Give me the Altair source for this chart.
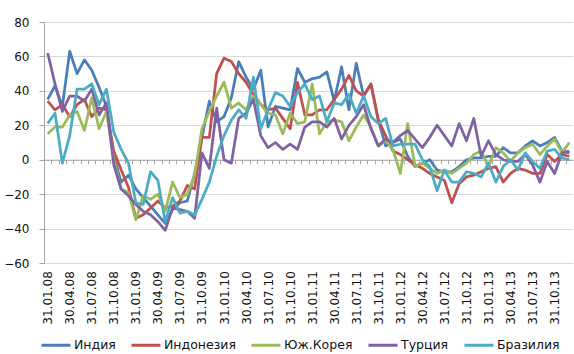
import calendar

import altair as alt
import pandas as pd

# Monthly observations, January 2008 - December 2013 (month-end dates)
month_labels = []
for k in range(72):
    yr, mo = 2008 + k // 12, k % 12 + 1
    last = calendar.monthrange(yr, mo)[1]
    month_labels.append(f"{last:02d}.{mo:02d}.{yr % 100:02d}")

series_names = ["Индия", "Индонезия", "Юж.Корея", "Турция", "Бразилия"]
series_colors = ["#4A7EBB", "#C0504D", "#9BBB59", "#7F62A3", "#4BACC6"]

india = [35, 43, 31, 63, 50, 58, 52, 42, 31, 2,
         -13, -9, -17, -22, -27, -32, -37, -29, -25, -24,
         -8, 13, 34, 22, 25, 36, 57, 48, 41, 52,
         19, 31, 30, 29, 53, 45, 47, 48, 51, 34,
         54, 29, 56, 37, 44, 23, 8, 10, 12, 2,
         -4, -2, 0, -6, -7, -7, -4, 0, 1, 1,
         2, 2, 7, 4, 4, 8, 11, 8, 10, 13,
         5, 4]

indonesia = [34, 29, 32, 25, 32, 35, 25, 30, 29, 5,
             -6, -16, -34, -32, -28, -24, -28, -27, -24, -15,
             -17, 13, 13, 50, 59, 57, 50, 45, 38, 32,
             29, 30, 24, 18, 45, 26, 26, 29, 29, 35,
             41, 49, 40, 37, 44, 23, 14, 5, 3, 0,
             -3, -5, -8, -10, -12, -25, -14, -10, -9, -7,
             -5, -4, -13, -8, -5, -6, -8, -8, 3, -1,
             3, 2]

korea = [15, 19, 19, 26, 28, 17, 36, 18, 28, 0,
         -17, -19, -35, -21, -23, -20, -30, -13, -22, -20,
         -9, 18, 28, 37, 45, 30, 33, 29, 37, 32,
         27, 26, 15, 27, 21, 22, 44, 15, 22, 23,
         22, 11, 19, 26, 19, 8, 11, 6, -8, 21,
         -4, -2, -5, -8, -6, -8, -5, -2, 3, 5,
         -4, 7, 4, -1, 4, 7, 9, 3, 8, 12,
         4, 10]

turkey = [62, 44, 28, 37, 37, 34, 41, 26, 33, -3,
          -17, -21, -26, -30, -32, -36, -41, -28, -29, -30,
          -34, 4, -5, 30, 0, -2, 24, 27, 35, 14,
          7, 10, 6, 9, 6, 19, 22, 22, 19, 24,
          12, 20, 25, 32, 18, 8, 12, 10, 14, 17,
          12, 7, 13, 20, 14, 8, 21, 11, 24, 2,
          11, 3, 0, -1, -1, 3, -3, -13, -1, -8,
          4, 5]

brazil = [21, 27, -2, 14, 41, 41, 44, 32, 41, 16,
          6, -2, -25, -26, -7, -12, -36, -22, -31, -30,
          -32, -23, -13, 2, 14, 23, 29, 24, 48, 18,
          29, 39, 37, 31, 39, 44, 35, 37, 22, 33,
          32, 38, 27, 37, 25, 21, 24, 8, 9, 9,
          9, 0, -4, -18, -6, -13, -13, -7, -8, -10,
          -2, -13, -4, 0, -6, 4, -1, -5, 5, 6,
          1, 0]

series_values = [india, indonesia, korea, turkey, brazil]

rows = []
for name, vals in zip(series_names, series_values):
    for m, v in zip(month_labels, vals):
        rows.append({"month": m, "value": v, "series": name})
df = pd.DataFrame(rows)

W, H = 529, 241
step = W / len(month_labels)
zero_offset = H * 60 / 140  # distance of the zero line above the -60 edge

x_enc = alt.X(
    "month:O",
    sort=month_labels,
    scale=alt.Scale(type="point", padding=0.5),
    title=None,
    axis=alt.Axis(
        offset=-zero_offset,
        domainColor="#A6A6A6",
        tickColor="#A6A6A6",
        tickSize=4,
        tickOffset=-step / 2,
        labelOffset=step / 2,
        labelAngle=270,
        labelPadding=107,
        labelOverlap=False,
        labelExpr="indexof(['01','04','07','10'], substring(datum.value, 3, 5)) >= 0 ? datum.value : ''",
        grid=False,
    ),
)

y_enc = alt.Y(
    "value:Q",
    scale=alt.Scale(domain=[-60, 80], nice=False, zero=False),
    title=None,
    axis=alt.Axis(
        values=list(range(-60, 81, 20)),
        domainColor="#A6A6A6",
        tickColor="#A6A6A6",
        tickSize=5,
        labelPadding=10,
        gridColor="#D9D9D9",
        gridWidth=1,
    ),
)

color_enc = alt.Color(
    "series:N",
    scale=alt.Scale(domain=series_names, range=series_colors),
    legend=alt.Legend(
        title=None,
        orient="none",
        direction="horizontal",
        columns=5,
        legendX=-4,
        legendY=307,
        padding=0,
        symbolType="stroke",
        symbolSize=841,
        symbolStrokeWidth=3,
        labelOffset=2,
        columnPadding=9,
        labelFontSize=12.5,
    ),
)

layers = [
    alt.Chart(df)
    .transform_filter(alt.datum.series == name)
    .mark_line(strokeWidth=2.75, strokeJoin="round")
    .encode(x=x_enc, y=y_enc, color=color_enc)
    for name in series_names
]

chart = (
    alt.layer(*layers)
    .properties(
        width=W,
        height=H,
        autosize="none",
        padding={"left": 44, "top": 22, "right": 1, "bottom": 91},
    )
    .configure_view(strokeWidth=0)
    .configure_axis(labelFont="DejaVu Sans", labelFontSize=12, labelColor="#111111")
    .configure_legend(labelFont="DejaVu Sans", labelColor="#111111")
)

chart.save("out.html", embed_options={"renderer": "svg", "actions": False})
